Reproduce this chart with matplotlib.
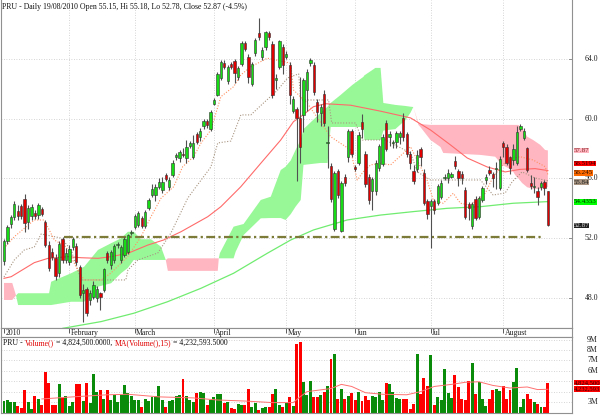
import matplotlib
matplotlib.use('Agg')
import matplotlib.pyplot as plt
import numpy as np
from matplotlib.transforms import blended_transform_factory

OUT_FILENAME = 'out.png'
FONT = 'Liberation Serif'

TITLE = 'PRU - Daily 19/08/2010 Open 55.15, Hi 55.18, Lo 52.78, Close 52.87 (-4.5%)'

# daily candles, 4 Jan 2010 .. 19 Aug 2010 (trading day index 0..158)
opens = [50.43, 51.82, 52.94, 53.43, 53.83, 54.15, 54.6, 53.1, 53.5, 53.7,
         53.55, 53.93, 53.05, 51.55, 51.06, 50.67, 49.64, 51.92, 50.53, 50.4,
         51.4, 51.48, 50.04, 48.3, 48.56, 47.85, 48.07, 47.96, 48.3, 48.52,
         50.97, 50.19, 50.53, 51.5, 50.53, 50.86, 51.08, 52.32, 52.72, 52.88,
         53.32, 52.83, 53.99, 54.88, 54.88, 55.44, 55.22, 56.22, 55.44, 56.22,
         57.41, 57.35, 57.65, 57.35, 58.17, 57.46, 58.96, 58.8, 59.51, 59.87,
         59.29, 60.99, 61.59, 62.71, 63.75, 62.55, 63.67, 63.89, 62.77, 63.64,
         65.05, 64.11, 62.33, 64.38, 65.72, 64.11, 64.83, 65.72, 65.0, 62.6,
         63.49, 64.83, 64.11, 63.6, 60.54, 60.63, 60.03, 60.25, 61.92, 63.71,
         63.6, 61.14, 60.36, 61.66, 58.35, 56.83, 52.59, 56.46, 52.5, 56.08,
         57.42, 59.14, 56.74, 57.01, 59.8, 57.64, 56.08, 55.12, 55.12, 56.68,
         56.97, 59.69, 58.75, 58.38, 58.46, 58.8, 60.03, 58.98, 57.64, 56.46,
         56.61, 57.95, 56.39, 54.45, 54.16, 54.45, 54.38, 54.78, 56.05, 56.01,
         56.12, 57.19, 56.46, 56.3, 55.2, 54.29, 52.82, 54.6, 53.44, 54.56,
         55.9, 56.57, 56.28, 56.65, 55.34, 58.4, 58.13, 57.42, 57.24, 57.01,
         59.29, 58.73, 58.0, 55.72, 55.43, 55.18, 55.41, 55.74, 55.15]
closes = [51.8, 52.76, 53.39, 54.28, 53.5, 53.48, 53.03, 54.0, 54.06, 53.48,
          54.2, 53.6, 51.55, 50.0, 50.7, 49.46, 51.6, 50.53, 51.03, 51.26,
          51.92, 50.37, 48.18, 48.5, 46.99, 48.34, 48.85, 48.56, 48.07, 49.9,
          50.53, 51.08, 51.46, 51.6, 51.4, 51.92, 52.2, 52.43, 53.48, 53.66,
          52.81, 53.77, 54.55, 55.29, 55.44, 55.78, 55.78, 55.93, 55.89, 57.05,
          57.57, 57.79, 57.55, 58.08, 58.35, 58.35, 58.46, 59.2, 59.87, 59.6,
          60.47, 61.25, 63.0, 63.8, 63.49, 63.49, 63.49, 63.08, 63.38, 65.09,
          64.7, 62.77, 63.67, 65.27, 65.45, 64.6, 65.79, 65.5, 61.59, 62.7,
          65.2, 63.58, 64.33, 61.59, 61.3, 60.03, 58.13, 62.59, 63.15, 63.93,
          61.81, 60.47, 60.8, 59.74, 58.45, 54.6, 56.34, 54.89, 55.67, 55.67,
          59.14, 57.64, 56.65, 58.91, 59.29, 55.63, 54.56, 55.94, 57.01, 58.17,
          58.8, 57.95, 58.98, 58.42, 59.02, 59.05, 58.8, 57.64, 57.01, 55.79,
          57.57, 57.46, 54.38, 53.62, 54.45, 53.89, 55.49, 55.72, 56.1, 56.34,
          56.28, 56.83, 56.01, 56.0, 53.4, 54.0, 54.29, 53.33, 54.67, 55.34,
          56.12, 56.39, 56.0, 56.7, 57.28, 58.1, 57.06, 56.68, 57.95, 59.11,
          59.51, 59.2, 56.57, 55.5, 55.47, 54.74, 55.67, 55.34, 52.87]
highs = [51.95, 52.9, 53.55, 54.45, 54.2, 54.3, 54.93, 54.2, 54.3, 53.9,
         54.35, 54.05, 53.2, 51.8, 51.3, 50.9, 51.8, 52.1, 51.3, 51.5,
         52.1, 51.7, 50.2, 48.9, 48.7, 48.5, 49.1, 48.8, 48.4, 50.0,
         51.1, 51.2, 51.6, 51.75, 51.55, 52.05, 52.3, 52.55, 53.6, 53.8,
         53.45, 53.9, 54.7, 55.6, 55.6, 56.0, 56.1, 56.35, 56.1, 57.2,
         57.7, 57.9, 58.0, 58.6, 58.5, 58.9, 59.1, 59.35, 60.0, 60.0,
         60.6, 61.35, 63.1, 63.95, 63.9, 63.6, 63.8, 64.0, 63.5, 65.2,
         65.2, 64.3, 63.8, 65.4, 66.72, 64.8, 65.9, 65.85, 65.2, 63.0,
         65.3, 65.0, 64.5, 63.8, 61.5, 60.8, 62.8, 62.7, 63.3, 64.05,
         63.8, 61.3, 61.0, 61.9, 59.5, 57.0, 56.5, 56.6, 55.8, 56.3,
         59.3, 59.3, 56.9, 59.1, 60.3, 57.8, 56.3, 56.1, 57.2, 58.3,
         58.95, 59.9, 59.2, 58.6, 59.2, 59.2, 60.4, 59.1, 57.8, 56.9,
         57.9, 58.1, 56.6, 54.6, 54.6, 54.6, 55.6, 55.9, 56.3, 56.6,
         56.4, 57.5, 56.6, 56.5, 55.4, 54.4, 54.4, 54.8, 54.8, 55.5,
         56.3, 56.8, 56.4, 57.1, 57.5, 58.5, 58.3, 57.5, 58.3, 59.5,
         59.65, 59.4, 58.1, 56.2, 56.1, 55.4, 55.8, 55.9, 55.18]
lows = [50.2, 51.6, 52.7, 53.2, 53.2, 53.3, 52.4, 52.6, 53.2, 53.3,
        53.3, 53.45, 51.4, 49.8, 50.5, 49.2, 49.4, 50.3, 50.3, 50.2,
        51.2, 50.2, 48.0, 46.4, 46.8, 47.5, 47.9, 47.7, 47.2, 48.4,
        50.3, 49.9, 50.3, 51.3, 50.3, 50.7, 50.9, 52.2, 52.6, 52.75,
        52.7, 52.7, 53.85, 54.75, 54.5, 55.3, 55.0, 55.8, 55.2, 56.1,
        57.2, 57.1, 57.4, 57.0, 58.0, 57.3, 58.3, 58.5, 59.3, 59.4,
        59.2, 60.9, 61.5, 62.6, 63.3, 62.3, 63.3, 62.4, 62.6, 63.5,
        64.5, 62.4, 62.2, 64.2, 65.3, 63.9, 64.6, 65.3, 61.4, 62.0,
        63.3, 63.0, 64.0, 61.0, 60.4, 55.8, 57.0, 59.1, 60.5, 63.5,
        61.6, 59.8, 59.5, 59.5, 56.7, 54.4, 52.5, 54.7, 52.4, 55.5,
        57.1, 57.4, 56.5, 56.9, 58.7, 55.4, 54.3, 53.9, 54.9, 56.5,
        56.8, 57.8, 58.2, 58.0, 58.0, 58.3, 58.5, 57.4, 56.6, 55.6,
        56.4, 56.8, 54.2, 53.3, 51.3, 53.6, 54.2, 54.6, 55.9, 55.7,
        56.0, 56.6, 55.5, 55.6, 53.3, 53.2, 52.6, 53.2, 53.3, 54.4,
        55.6, 56.2, 55.4, 55.3, 55.2, 57.4, 56.9, 56.3, 56.9, 56.9,
        59.2, 58.6, 56.4, 55.3, 55.0, 54.2, 55.2, 54.9, 52.78]

# volume in millions
volumes = [3.1, 3.2, 3.0, 3.0, 2.6, 2.4, 4.2, 3.0, 2.3, 3.6,
           3.25, 2.7, 5.9, 4.85, 2.7, 2.7, 4.7, 3.35, 3.6, 2.6,
           3.0, 4.7, 4.7, 3.1, 4.85, 2.9, 5.7, 4.0, 4.15, 3.25,
           4.15, 3.2, 3.65, 3.0, 3.65, 4.6, 3.9, 3.6, 3.2, 3.2,
           2.5, 3.25, 3.1, 3.5, 3.6, 4.5, 3.2, 2.5, 3.1, 3.2,
           3.6, 3.65, 5.25, 3.6, 3.2, 3.0, 3.9, 4.0, 3.9, 2.7,
           3.2, 3.45, 3.75, 3.8, 2.9, 3.0, 2.4, 2.3, 2.8, 2.7,
           2.7, 4.3, 2.5, 2.9, 2.2, 2.4, 2.5, 2.5, 3.75, 4.3,
           2.7, 2.5, 2.9, 3.45, 2.6, 8.6, 8.75, 4.9, 3.65, 5.0,
           3.45, 3.5, 3.65, 4.0, 4.5, 7.1, 7.6, 3.25, 4.3, 3.25,
           3.6, 3.9, 3.2, 4.0, 3.1, 3.6, 3.2, 3.6, 3.5, 4.0,
           3.2, 4.8, 4.7, 4.0, 3.35, 3.25, 3.25, 3.25, 2.3, 2.8,
           7.66, 3.8, 5.3, 4.5, 7.5, 2.7, 3.45, 3.2, 6.2, 3.9,
           3.35, 5.6, 4.4, 3.25, 3.2, 5.0, 6.77, 3.75, 4.95, 3.25,
           2.6, 3.25, 4.2, 4.3, 4.1, 4.5, 3.25, 4.15, 4.95, 6.3,
           2.5, 3.25, 3.75, 3.25, 3.0, 2.8, 2.5, 2.5, 4.82]
vol_ma_x = [11, 20, 30, 36, 45, 55, 62, 70, 78, 84, 86, 88, 95, 98, 101,
            105, 110, 117, 121, 125, 130, 134, 138, 142, 147, 152, 155, 158]
vol_ma = [3.3, 3.5, 3.7, 3.75, 3.5, 3.4, 3.2, 3.1, 2.95, 2.95, 3.5, 4.0, 4.3,
          4.7, 4.5, 3.9, 3.75, 3.7, 4.0, 4.5, 4.7, 4.9, 4.95, 4.6, 4.35, 4.45,
          4.2, 4.23]

# ichimoku cloud (senkou span A / B)
cloud_x = [0.0, 2.4, 3.5, 4.1, 13.1, 13.7, 19.5, 23.3, 27.3, 31.1, 34.0, 36.0,
           37.7, 39.8, 42.7, 45.6, 47.0, 47.6, 62.1, 62.4, 62.7, 66.7, 67.3,
           69.6, 74.6, 77.5, 80.4, 81.8, 83.3, 84.7, 86.2, 87.0, 91.97, 94.0,
           94.9, 97.8, 101.2, 104.4, 104.7, 107.9, 109.4, 110.2, 113.7, 116.6,
           118.1, 118.9, 120.4, 120.96, 123.9, 126.8, 127.6, 138.4, 142.7,
           144.7, 147.6, 148.5, 149.4, 150.5, 152.0, 153.7, 155.8, 157.2, 158.0]
span_a = [47.85, 47.85, 48.15, 48.3, 48.3, 49.07, 49.64, 50.08, 51.2, 51.65,
          51.98, 52.42, 52.42, 51.92, 51.92, 51.42, 50.53, 49.8, 49.8, 50.64,
          50.98, 52.76, 52.8, 52.94, 54.55, 54.77, 56.56, 56.78, 57.2, 57.9,
          58.57, 59.3, 60.38, 60.8, 61.05, 61.59, 62.26, 62.8, 62.9, 63.4,
          63.4, 61.05, 60.92, 60.85, 60.8, 60.78, 59.58, 59.44, 58.57, 58.1,
          57.7, 57.57, 57.45, 56.9, 56.56, 56.22, 56.0, 55.69, 55.4, 55.3,
          55.29, 55.35, 55.42]
span_b = [48.99, 48.99, 48.15, 47.51, 47.51, 47.51, 47.73, 47.73, 48.74, 48.97,
          49.64, 50.0, 50.53, 50.53, 50.53, 50.53, 50.53, 50.64, 50.64, 50.64,
          50.64, 50.64, 51.08, 52.2, 53.32, 53.34, 53.34, 53.21, 53.6, 54.1,
          54.55, 56.9, 57.03, 57.03, 59.44, 59.44, 59.44, 59.44, 58.57, 58.57,
          58.57, 59.2, 59.3, 59.9, 60.4, 60.78, 59.71, 59.64, 59.58, 59.58,
          59.58, 59.58, 59.58, 59.58, 59.58, 59.58, 59.58, 59.38, 58.79, 58.57,
          58.24, 57.9, 57.87]

tenkan_x = [0, 3.0, 8.8, 11.7, 14.6, 18.0, 21.4, 23.3, 28.2, 31.1, 35.9, 39.8,
            42.7, 45.6, 49.3, 51.9, 55.1, 57.2, 60.1, 63.0, 66.7, 68.8, 71.7,
            74.6, 76.5, 81.3, 83.3, 84.1, 88.1, 94.9, 100.7, 102.6, 104.4,
            106.5, 109.4, 112.3, 118.1, 122.9, 124.7, 127.6, 130.5, 132.6,
            135.5, 139.8, 142.1, 146.1, 149.9, 153.7, 157.2, 158]
tenkan = [51.31, 52.09, 53.21, 53.21, 51.87, 51.42, 49.86, 49.19, 49.19, 49.66,
          50.75, 52.09, 53.43, 54.66, 55.44, 56.78, 57.45, 58.35, 59.24, 61.47,
          62.14, 62.93, 63.48, 63.82, 64.05, 63.82, 63.71, 61.92, 61.03, 58.79,
          57.9, 55.89, 56.45, 56.9, 57.01, 56.9, 58.12, 55.89, 54.55, 54.33,
          55.0, 54.33, 54.2, 55.0, 56.11, 57.23, 57.45, 57.23, 56.78, 56.25]

kijun_x = [0, 3.0, 5.9, 8.8, 10.8, 16.6, 19.5, 22.4, 35.4, 36.0, 38.9, 44.7,
           48.5, 53.4, 55.1, 60.1, 62.1, 65.9, 68.8, 71.7, 75.4, 79.5, 82.4,
           85.6, 86.2, 94.3, 95.2, 102.1, 104.1, 110.8, 118.1, 120.1, 123.9,
           138.4, 142.1, 145.6, 147.6, 150.5, 154.3, 158]
kijun = [49.39, 50.53, 51.2, 51.4, 52.27, 52.0, 51.2, 49.19, 49.19, 49.86,
         50.53, 51.0, 52.34, 54.68, 55.22, 56.76, 58.37, 58.5, 60.25, 60.25,
         61.05, 61.92, 62.73, 63.0, 61.25, 61.25, 59.71, 59.71, 58.57, 58.57,
         57.7, 56.43, 55.89, 55.89, 54.88, 55.02, 55.76, 56.43, 56.02, 55.84]

ma_red_x = [0, 2.1, 8.8, 12.8, 18.6, 22.4, 27.3, 31.1, 36.0, 41.8, 46.4, 51.4,
            59.2, 63.0, 68.8, 74.6, 80.4, 84.1, 86.2, 89.9, 93.4, 100.7, 109.4,
            118.1, 123.9, 129.7, 134.6, 140.4, 145.6, 149.9, 154.3, 158]
ma_red = [49.3, 49.41, 50.35, 50.64, 50.75, 50.68, 50.64, 50.75, 50.98, 51.53,
          51.87, 52.42, 53.43, 54.1, 55.44, 57.01, 58.57, 59.8, 60.13, 60.8,
          61.0, 60.9, 60.5, 60.05, 59.24, 58.24, 57.36, 56.76, 56.43, 56.6,
          56.65, 56.52]

ma_green_x = [15.0, 17.1, 28.2, 37.7, 47.5, 57.2, 66.7, 76.5, 83.3, 89.9, 99.7,
              109.4, 118.9, 128.7, 138.4, 147.9, 158]
ma_green = [45.8, 45.95, 46.4, 46.96, 47.73, 48.63, 49.64, 50.98, 51.87, 52.54,
            53.21, 53.54, 53.77, 53.99, 54.1, 54.33, 54.44]

support_level = 52.05
support_start, support_end = 17.4, 156

price_ticks = [48.0, 52.0, 56.0, 60.0, 64.0]
vol_ticks = [3, 6, 7, 8, 9]

month_idx = [0, 19, 38, 61, 82, 102, 124, 145]
month_names = ['2010', 'February', 'March', 'April', 'May', 'Jun', 'Jul', 'August']

# last-value boxes: text, where the box sits (stacked like the original), colours
last_labels = [('57.87', 57.85, '#ffb6c1', '#802020'),
               ('56.5194', 56.97, '#ff0000', '#300000'),
               ('56.245', 56.36, '#ff6a00', '#301000'),
               ('55.84', 55.75, '#a89480', '#202020'),
               ('54.4353', 54.42, '#00ff00', '#003000'),
               ('52.87', 52.82, '#202020', '#e0e0e0')]
vol_labels = [('4,824,500', 4.87), ('4,232,593', 4.25)]

n = len(opens)
idx = np.arange(n)
o = np.array(opens)
c = np.array(closes)
up = c >= o

XMIN, XMAX = -0.81, 165.0
GRID = dict(color='#c8c8c8', linestyle=(0, (1, 2)), linewidth=0.6)
FRAME = '#909090'
LBL = 5.6
BOX = 5.0

fig = plt.figure(figsize=(6.0, 4.16), dpi=100)
ax = fig.add_axes([0.002, 0.2115, 0.9513, 0.7885])
ax_d = fig.add_axes([0.002, 0.1899, 0.9513, 0.0216])
ax_v = fig.add_axes([0.002, 0.0072, 0.9513, 0.1827])

# ---- price panel
ax.set_xlim(XMIN, XMAX)
ax.set_ylim(45.97, 67.95)
for p in price_ticks:
    ax.axhline(p, zorder=0, **GRID)
for m in month_idx[1:]:
    ax.axvline(m, zorder=0, **GRID)

cx = np.array(cloud_x)
sa = np.array(span_a)
sb = np.array(span_b)
ax.fill_between(cx, sa, sb, where=sa >= sb, interpolate=True,
                color='#98f898', lw=0, zorder=1)
ax.fill_between(cx, sa, sb, where=sa <= sb, interpolate=True,
                color='#ffb6c1', lw=0, zorder=1)

ax.plot(ma_green_x, ma_green, color='#70ec70', lw=0.9, zorder=2)
ax.plot(ma_red_x, ma_red, color='#ff6a6a', lw=0.8, zorder=2)
ax.plot(kijun_x, kijun, color='#a89480', lw=0.8, ls=(0, (1, 1.5)), zorder=2)
ax.plot(tenkan_x, tenkan, color='#ff9060', lw=0.8, ls=(0, (1, 1.5)), zorder=2)
ax.plot([support_start, support_end], [support_level, support_level],
        color='#7c7c38', lw=1.6, ls=(0, (4, 1.5, 1, 1.5)), zorder=2)

ax.vlines(idx, lows, highs, color='#505050', lw=0.8, zorder=3)
body_lo = np.minimum(o, c)
body_h = np.maximum(np.abs(c - o), 0.06)
ax.bar(idx[up], body_h[up], bottom=body_lo[up], width=0.68,
       color='#16dc16', edgecolor='#303030', linewidth=0.4, zorder=4)
ax.bar(idx[~up], body_h[~up], bottom=body_lo[~up], width=0.68,
       color='#e00000', edgecolor='#303030', linewidth=0.4, zorder=4)

ax.set_xticks([])
ax.set_yticks([])
for side in ['left', 'right', 'bottom']:
    ax.spines[side].set_color(FRAME)
    ax.spines[side].set_linewidth(0.8)
ax.spines['top'].set_visible(False)

tr = blended_transform_factory(ax.transAxes, ax.transData)
for p in price_ticks:
    ax.text(1.0455, p, '%.1f' % p, transform=tr, ha='right', va='center',
            fontsize=LBL, family=FONT, color='#202020', clip_on=False)
    ax.plot([0.994, 1.0], [p, p], transform=tr, color=FRAME, lw=0.7,
            clip_on=False)
for txt, val, bg, fg in last_labels:
    ax.text(1.003, val, txt, transform=tr, ha='left', va='center',
            fontsize=BOX, family=FONT, color=fg, clip_on=False, zorder=6,
            bbox=dict(boxstyle='square,pad=0.02', fc=bg, ec='none'))

fig.text(0.004, 0.993, TITLE, ha='left', va='top', fontsize=LBL,
         family=FONT, color='#101010')

# ---- date strip
ax_d.set_xlim(XMIN, XMAX)
ax_d.set_ylim(0, 1)
ax_d.set_xticks([])
ax_d.set_yticks([])
for s in ax_d.spines.values():
    s.set_color(FRAME)
    s.set_linewidth(0.8)
for m, name in zip(month_idx, month_names):
    ax_d.vlines(m, 0.45, 1.0, color='#404040', lw=0.6)
    ax_d.text(m + 0.4, 0.42, name, ha='left', va='center', fontsize=LBL,
              family=FONT, color='#202020')

# ---- volume panel
ax_v.set_xlim(XMIN, XMAX)
ax_v.set_ylim(1.95, 9.25)
for v in range(3, 10):
    ax_v.axhline(v, zorder=0, **GRID)
vols = np.array(volumes)
ax_v.bar(idx[up], vols[up], width=0.86, color='#0a8c0a', lw=0, zorder=2)
ax_v.bar(idx[~up], vols[~up], width=0.86, color='#ff0000', lw=0, zorder=2)
ax_v.plot(vol_ma_x, vol_ma, color='#ff7070', lw=0.7, zorder=3)
ax_v.set_xticks([])
ax_v.set_yticks([])
for s in ax_v.spines.values():
    s.set_color(FRAME)
    s.set_linewidth(0.8)

trv = blended_transform_factory(ax_v.transAxes, ax_v.transData)
for v in vol_ticks:
    ax_v.text(1.0455, v, '%dM' % v, transform=trv, ha='right', va='center',
              fontsize=LBL, family=FONT, color='#202020', clip_on=False)
for txt, val in vol_labels:
    ax_v.text(1.003, val, txt, transform=trv, ha='left', va='center',
              fontsize=4.8, family=FONT, color='#300000', clip_on=False,
              zorder=6, bbox=dict(boxstyle='square,pad=0.02', fc='#ff0000',
                                  ec='none'))

parts = [('PRU - ', '#101010'), ('Volume()', '#e00000'),
         (' = 4,824,500.0000, ', '#101010'), ('MA(Volume(),15)', '#e00000'),
         (' = 4,232,593.5000', '#101010')]
prev = ax_v.text(0.004, 0.97, parts[0][0], transform=ax_v.transAxes,
                 ha='left', va='top', fontsize=LBL, family=FONT,
                 color=parts[0][1], zorder=7)
for txt, col in parts[1:]:
    prev = ax_v.annotate(txt, xy=(1, 0), xycoords=prev, ha='left',
                         va='bottom', fontsize=LBL, family=FONT, color=col,
                         zorder=7)

fig.savefig(OUT_FILENAME, dpi=100)
print('Chart written to ' + OUT_FILENAME)
